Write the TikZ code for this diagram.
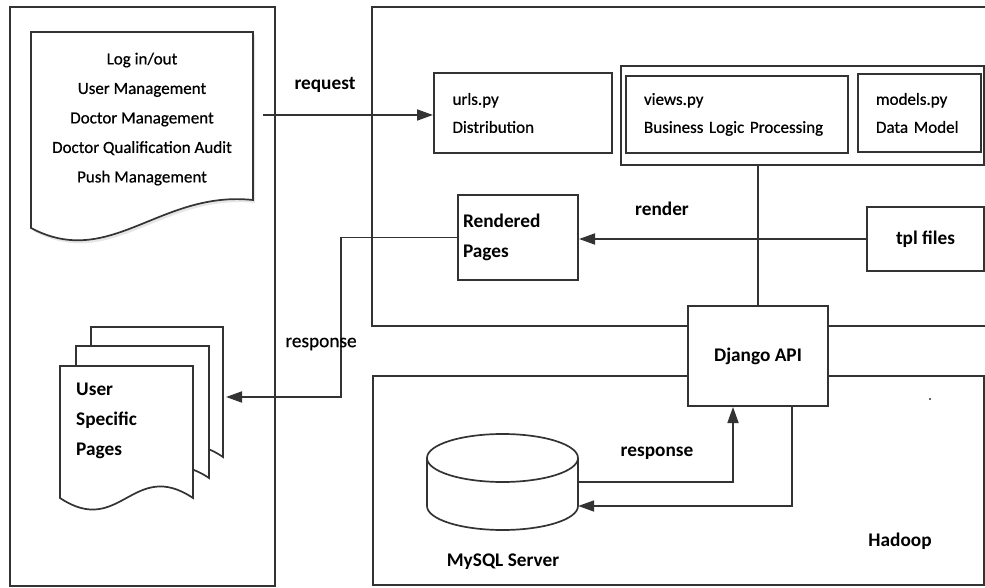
\documentclass[tikz,border=0pt]{standalone}
\usepackage{fontspec}
\setmainfont{Carlito}
\newfontfamily\medfont[RawFeature={embolden=0.6}]{Carlito}
\usetikzlibrary{arrows.meta,shadows}
\definecolor{ink}{HTML}{333333}

\begin{document}
\begin{tikzpicture}[x=1pt,y=-1pt,
    box/.style={draw=ink, line width=2pt, fill=white, inner sep=0pt},
    small/.style={font=\fontsize{17}{28}\selectfont\medfont},
    big/.style={font=\fontsize{19.3}{30}\selectfont\bfseries},
    wire/.style={draw=ink, line width=1.8pt},
    arr/.style={draw=ink, line width=1.8pt, -{Triangle[length=16pt,width=11pt]}},
    page/.style={draw=ink, line width=1.7pt, fill=white}]
        \useasboundingbox (0,0) rectangle (985,588);

        % panels
        \draw[wire] (10,7) rectangle (275,586);
        \draw[wire] (995,7) -- (372,7) -- (372,326) -- (995,326);
        \draw[wire] (984,376) -- (373,376) -- (373,585) -- (984,585) -- cycle;

        % admin menu document
        \draw[page, drop shadow={opacity=0.2, shadow xshift=2pt, shadow yshift=-3pt}] (31,228) -- (31,32) -- (253,32) -- (253,200) .. controls (160,190) and (110,270) .. (31,228) -- cycle;
        \node[font=\fontsize{17}{29.5}\selectfont\medfont, align=center] (menu) at (142,119) {Log in/out\\User Management\\Doctor Management\\Doctor Qualification Audit\\Push Management};
        \coordinate (req) at (263,115);

        % user pages
        \draw[page] (91,457) -- (91,327) -- (223,327) -- (223,457) .. controls (164,417) and (150,497) .. (91,457) -- cycle;
        \draw[page] (76,478) -- (76,346) -- (209,346) -- (209,478) .. controls (149,438) and (136,518) .. (76,478) -- cycle;
        \draw[page] (60,498) -- (60,366) -- (193,366) -- (193,498) .. controls (133,458) and (120,538) .. (60,498) -- cycle;
        \node[big, anchor=west, align=left, inner sep=0pt] (upages) at (76,421) {User\\Specific\\Pages};
        \coordinate (pg) at (226,397);

        % django project
        \node[box, small, minimum width=178pt, minimum height=80pt, text width=141pt, align=left] (urls) at (523,113) {urls.py\\Distribution};
        \node[box, minimum width=363pt, minimum height=99pt] (app) at (802.5,115.5) {};
        \node[box, small, minimum width=222pt, minimum height=77pt, text width=186pt, align=left] (views) at (737,114.5) {views.py\\Business Logic Processing};
        \node[box, small, minimum width=123pt, minimum height=78pt, text width=87pt, align=left] (models) at (919.5,113) {models.py\\Data Model};
        \node[box, big, minimum width=120pt, minimum height=85pt, text width=110pt, align=left] (rendered) at (518,237.5) {Rendered\\Pages};
        \node[box, big, minimum width=117pt, minimum height=64pt] (tpl) at (925.5,239) {tpl files};
        \node[box, big, minimum width=140pt, minimum height=100pt] (django) at (758,356) {Django API};

        % mysql
        \draw[page] (427,458) -- (427,506) arc[start angle=180, end angle=0, x radius=75.5, y radius=24] -- (578,458);
        \draw[page] (502.5,458) ellipse [x radius=75.5, y radius=24];
        \node[minimum width=151pt, minimum height=96pt, inner sep=0pt] (db) at (502.5,482) {};

        % connectors
        \draw[arr] (req) -- (req -| urls.west);
        \draw[wire] (django.north |- app.south) -- (django.north);
        \draw[arr] (tpl.west) -- (tpl.west -| rendered.east);
        \draw[arr] (rendered.west) -| (341,397) -- (pg);
        \draw[arr] (db.east) -| ([xshift=-25pt]django.south);
        \draw[arr] ([xshift=34pt]django.south) |- ([yshift=-24pt]db.east);

        % labels
        \node[big] (reqlbl) at (325,85) {request};
        \node[big] (renderlbl) at (662,209) {render};
        \node[font=\fontsize{19.3}{30}\selectfont\medfont] (resplbl) at (321,344) {response};
        \node[big] (dblbl) at (657,453) {response};
        \node[big] (mysqllbl) at (503,562) {MySQL Server};
        \node[big] (hadooplbl) at (900,541) {Hadoop};
        \fill[ink] (930,399) circle (1.2pt);

    \end{tikzpicture}
\end{document}
